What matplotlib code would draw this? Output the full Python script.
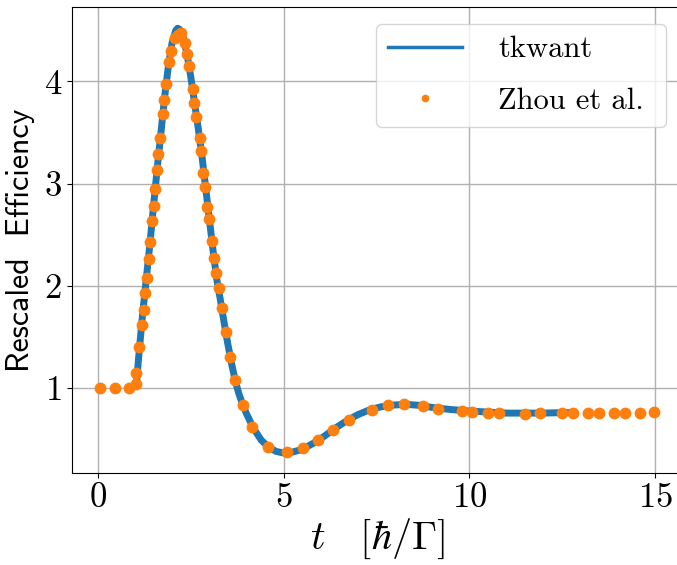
import numpy as np
import matplotlib
matplotlib.use('Agg')
import matplotlib.pyplot as plt

plt.rcParams['mathtext.fontset'] = 'cm'
plt.rcParams['axes.formatter.use_mathtext'] = True

# tkwant curve
t_tkwant = [0.9, 1.0, 1.05, 1.1, 1.2, 1.3, 1.4, 1.5, 1.6, 1.7, 1.8, 1.9, 2.0,
            2.1, 2.15, 2.2, 2.3, 2.4, 2.5, 2.6, 2.7, 2.8, 2.9, 3.0, 3.1, 3.2,
            3.3, 3.4, 3.5, 3.6, 3.7, 3.8, 3.9, 4.0, 4.2, 4.4, 4.6, 4.8, 5.0,
            5.2, 5.5, 5.8, 6.1, 6.4, 6.7, 7.0, 7.3, 7.6, 8.0, 8.3, 8.7, 9.0,
            9.5, 10.0, 10.5, 11.0, 11.5, 12.0, 12.5, 12.8]
eff_tkwant = [1.0, 1.02, 1.08, 1.3, 1.7, 2.05, 2.4, 2.78, 3.15, 3.5, 3.85,
              4.15, 4.38, 4.5, 4.52, 4.51, 4.43, 4.27, 4.05, 3.8, 3.55, 3.28,
              2.97, 2.66, 2.35, 2.07, 1.86, 1.64, 1.43, 1.24, 1.07, 0.94,
              0.84, 0.75, 0.6, 0.49, 0.42, 0.38, 0.365, 0.37, 0.40, 0.46,
              0.53, 0.61, 0.68, 0.74, 0.785, 0.815, 0.835, 0.84, 0.83, 0.81,
              0.79, 0.775, 0.765, 0.755, 0.755, 0.755, 0.76, 0.76]

# Zhou et al. points
t_zhou = [0.05, 0.47, 0.85, 1.02, 1.04, 1.12, 1.18, 1.24, 1.28, 1.32, 1.37,
          1.41, 1.46, 1.50, 1.55, 1.59, 1.63, 1.68, 1.76, 1.78, 1.84, 1.92,
          1.96, 2.07, 2.16, 2.25, 2.34, 2.40, 2.46, 2.57, 2.60, 2.65, 2.74,
          2.78, 2.84, 2.89, 2.95, 3.00, 3.08, 3.12, 3.17, 3.26, 3.34, 3.44,
          3.57, 3.70, 3.91, 4.15, 4.59, 5.08, 5.53, 5.92, 6.33, 6.76, 7.39,
          7.81, 8.23, 8.74, 9.16, 9.81, 10.08, 10.50, 10.79, 11.50, 11.89,
          12.49, 12.79, 13.19, 13.49, 13.88, 14.19, 14.59, 14.98]
eff_zhou = [1.0, 1.0, 1.0, 1.04, 1.15, 1.40, 1.62, 1.76, 1.93, 2.08, 2.26,
            2.43, 2.63, 2.78, 2.95, 3.13, 3.29, 3.45, 3.68, 3.82, 3.97, 4.19,
            4.30, 4.42, 4.45, 4.47, 4.38, 4.27, 4.15, 3.93, 3.79, 3.65, 3.45,
            3.32, 3.10, 2.97, 2.77, 2.65, 2.44, 2.27, 2.13, 1.98, 1.78, 1.55,
            1.30, 1.08, 0.83, 0.62, 0.42, 0.37, 0.41, 0.49, 0.59, 0.69, 0.79,
            0.83, 0.84, 0.82, 0.80, 0.78, 0.77, 0.76, 0.76, 0.75, 0.76,
            0.76, 0.76, 0.76, 0.76, 0.76, 0.76, 0.76, 0.77]

fig = plt.figure(figsize=(6.77, 5.65), dpi=100)
ax = fig.add_axes([0.106, 0.163, 0.903, 0.825])

ax.plot(t_tkwant, eff_tkwant, '-', color='#1f77b4', lw=5, label='tkwant')
ax.plot(t_zhou, eff_zhou, 'o', color='#ff7f0e', ms=7.5, label='Zhou et al. ')

ax.set_xlim(-0.70, 15.75)
ax.set_ylim(0.17, 4.73)
ax.set_xticks([0, 5, 10, 15])
ax.set_yticks([1, 2, 3, 4])
ax.grid(True, color='#b0b0b0', lw=1)
for lab in ax.get_xticklabels() + ax.get_yticklabels():
    lab.set_fontfamily('cmr10')
    lab.set_fontsize(25)

ax.set_xlabel(r'$t\quad[\hbar/\Gamma]$', fontsize=29, labelpad=2)
ax.set_ylabel('Rescaled  Efficiency', fontfamily='cmss10', fontsize=23, labelpad=6)

leg = ax.legend(loc='upper right', prop={'family': 'cmr10', 'size': 22},
                markerscale=0.6, handletextpad=1.2, handlelength=2.4,
                labelspacing=0.8, borderaxespad=0.55)
leg.get_lines()[0].set_linewidth(2.5)

fig.savefig('out.png', dpi=100)
